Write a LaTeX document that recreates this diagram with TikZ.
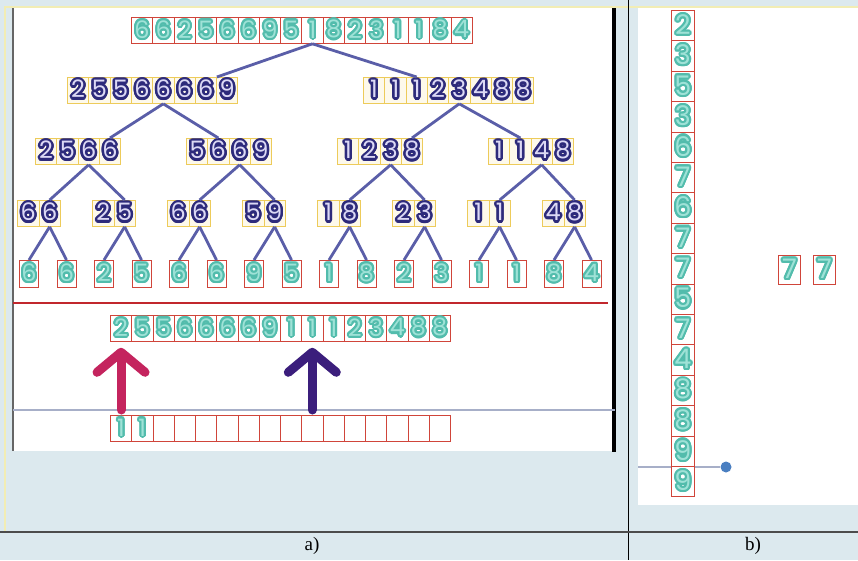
\documentclass[tikz,border=0pt]{standalone}
\usepackage{fontspec}
\usepackage{xcolor}
\usepackage[copies]{contour}
\usepackage{tikz}
\usetikzlibrary{arrows.meta,positioning}
\newfontfamily\digfont{Poppins}
\newfontfamily\capfont{Liberation Serif}
\definecolor{cBg}{HTML}{DCE9EE}
\definecolor{cPale}{HTML}{F2EDB4}
\definecolor{cRed}{HTML}{D0453A}
\definecolor{cRedLine}{HTML}{C1272D}
\definecolor{cGold}{HTML}{EDCB5A}
\definecolor{cNavy}{HTML}{2D2A7B}
\definecolor{cLav}{HTML}{DCD9F5}
\definecolor{cTealD}{HTML}{52BCAC}
\definecolor{cTealL}{HTML}{9FE2D7}
\definecolor{cLink}{HTML}{5A5EA8}
\definecolor{cPink}{HTML}{C4245E}
\definecolor{cIndigo}{HTML}{3B1E7C}
\definecolor{cGuide}{HTML}{A7AFC8}
\definecolor{cDot}{HTML}{4A7FC1}
\contournumber{16}
\newcommand\tdig[1]{\contourlength{2.1pt}\contour{cTealD}{\textcolor{cTealL}{#1}}}
\newcommand\ndig[1]{\contourlength{2.5pt}\contour{cNavy}{\textcolor{cLav}{#1}}}
\tikzset{
  cellbox/.style={draw=#1,line width=0.8pt,inner sep=0pt,anchor=north west,minimum height=26pt,font=\digfont\fontsize{24}{24}\selectfont},
  tcell/.style={cellbox=cRed,fill=white,minimum width=21.3pt},
  ncell/.style={cellbox=cGold,fill=cGold!12,minimum width=21.3pt},
  pcell/.style={ncell,minimum width=21.5pt},
  leaf/.style={tcell,anchor=north,minimum width=19pt,minimum height=27pt},
  % tall cells of panel b
  ccell/.style={tcell,minimum width=23pt,minimum height=30.4pt,font=\digfont\fontsize{27}{27}\selectfont},
  link/.style={line width=2.8pt,color=cLink},
  fat/.style={line width=9pt,line cap=round,line join=round,color=#1,-{Straight Barb[length=20pt,width=48pt,round]}},
  guide/.style={line width=1.3pt,color=cGuide},
}

\begin{document}
\begin{tikzpicture}[x=1pt,y=-1pt]
  \useasboundingbox (0,0) rectangle (858,560);
  % frame and panels
  \fill[cBg] (0,0) rectangle (858,560);
  \draw[cPale,line width=1.2pt] (5,532) -- (5,7) -- (858,7);
  \fill[white] (13,8) rectangle (614,451);
  \fill[white] (638,8) rectangle (858,505);
  \draw[black!60,line width=1.6pt] (13,8) -- (13,451);
  \draw[black,line width=3.5pt] (614,8) -- (614,452);
  \draw[black,line width=0.9pt] (628,0) -- (628,560);
  \draw[black!70,line width=1.2pt] (0,532) -- (858,532);

  % top row
  \foreach \d [count=\i] in {6,6,2,5,6,6,9,5,1,8,2,3,1,1,8,4}
    \node[tcell] (t\i) at ({131+(\i-1)*21.3},17) {\tdig{\d}};
  % level 2
  \foreach \d [count=\i] in {2,5,5,6,6,6,6,9}
    \node[ncell] (a\i) at ({67+(\i-1)*21.3},77) {\ndig{\d}};
  \foreach \d [count=\i] in {1,1,1,2,3,4,8,8}
    \node[ncell] (b\i) at ({363+(\i-1)*21.3},77) {\ndig{\d}};
  % level 3
  \foreach \g/\x/\u/\v/\w/\z in {1/35/2/5/6/6,2/186/5/6/6/9,3/337/1/2/3/8,4/488/1/1/4/8}
    \foreach \d [count=\i] in {\u,\v,\w,\z}
      \node[ncell] (c\g-\i) at ({\x+(\i-1)*21.3},138) {\ndig{\d}};
  % level 4
  \foreach \g/\p/\q in {1/6/6,2/2/5,3/6/6,4/5/9,5/1/8,6/2/3,7/1/1,8/4/8}{
    \node[pcell] (d\g-1) at ({17+(\g-1)*75},200) {\ndig{\p}};
    \node[pcell] (d\g-2) at ({38.5+(\g-1)*75},200) {\ndig{\q}};
  }
  % leaves
  \foreach \d [count=\i] in {6,6,2,5,6,6,9,5,1,8,2,3,1,1,8,4}
    \node[leaf] (f\i) at ({29+(\i-1)*37.5},260) {\tdig{\d}};

  \draw[link] (t9.south) -- (a7.north east);
  \draw[link] (t9.south) -- (b3.north);
  \draw[link] (a5.south) -- (c1-4.north);
  \draw[link] (a5.south) -- (c2-2.north);
  \draw[link] (b5.south) -- (c3-4.north);
  \draw[link] (b5.south) -- (c4-2.north);
  \foreach \g/\l/\r in {1/1/2,2/3/4,3/5/6,4/7/8}{
    \draw[link] (c\g-3.south) -- (d\l-2.north);
    \draw[link] (c\g-3.south) -- (d\r-2.north);
  }
  \foreach \k/\l/\r in {1/1/2,2/3/4,3/5/6,4/7/8,5/9/10,6/11/12,7/13/14,8/15/16}{
    \draw[link] (d\k-2.south) -- (f\l.north);
    \draw[link] (d\k-2.south) -- (f\r.north);
  }

  \coordinate (redl) at (13,303);
  \coordinate (redr) at (608,303);
  \draw[cRedLine,line width=2.4pt] (redl) -- (redr);
  \coordinate (gryl) at (13,410);
  \coordinate (gryr) at (615,410);
  \draw[guide] (gryl) -- (gryr);

  % merged row and output array
  \foreach \d [count=\i] in {2,5,5,6,6,6,6,9,1,1,1,2,3,4,8,8}
    \node[tcell] (m\i) at ({110+(\i-1)*21.25},315) {\tdig{\d}};
  \foreach \d [count=\i] in {1,1,{},{},{},{},{},{},{},{},{},{},{},{},{},{}}
    \node[tcell] (lo\i) at ({110+(\i-1)*21.25},415) {\tdig{\d}};
  \draw[fat=cPink,shorten <=5pt,shorten >=6pt] (lo1.north) -- (m1.south);
  \draw[fat=cIndigo,shorten <=5pt,shorten >=6pt] (lo10.north) -- (m10.south);

  % panel b
  \coordinate (bl) at (638,467);
  \node[circle,fill=cDot,inner sep=0pt,minimum size=11pt] (bdot) at (726,467) {};
  \draw[guide] (bl) -- (bdot);
  \foreach \d [count=\i] in {2,3,5,3,6,7,6,7,7,5,7,4,8,8,9,9}
    \node[ccell] (r\i) at (671,{10+(\i-1)*30.4}) {\tdig{\d}};
  \node[ccell,minimum width=22pt,minimum height=29pt] (s1) at (778,255) {\tdig{7}};
  \node[ccell,minimum width=22pt,minimum height=29pt] (s2) at (813,255) {\tdig{7}};

  \node[font=\capfont\fontsize{19}{19}\selectfont] (capa) at (312,546) {a)};
  \node[font=\capfont\fontsize{19}{19}\selectfont] (capb) at (753,546) {b)};
\end{tikzpicture}
\end{document}
